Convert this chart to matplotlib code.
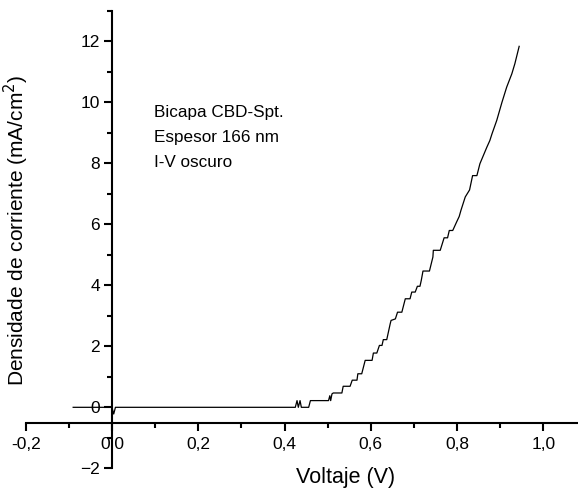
import matplotlib
import matplotlib.pyplot as plt
from matplotlib.ticker import MultipleLocator, FuncFormatter

matplotlib.use("Agg")

# I-V curve (voltage in V, current density in mA/cm2)
voltage = [-0.09, 0.0, 0.004, 0.008,
           0.425, 0.429, 0.432, 0.436, 0.439, 0.444, 0.456, 0.460,
           0.502, 0.505, 0.507, 0.510, 0.513,
           0.533, 0.536, 0.552, 0.557, 0.568, 0.570, 0.579, 0.587,
           0.603, 0.606, 0.614, 0.620, 0.626, 0.629, 0.637, 0.645, 0.647,
           0.657, 0.662, 0.672, 0.680, 0.691, 0.695, 0.703, 0.708,
           0.714, 0.717, 0.721, 0.736, 0.744, 0.745, 0.761, 0.770,
           0.778, 0.782, 0.790, 0.799, 0.805, 0.809, 0.819, 0.829,
           0.836, 0.846, 0.853, 0.861, 0.869, 0.876, 0.881, 0.892,
           0.904, 0.915, 0.927, 0.934, 0.944]
current = [0.0, 0.0, -0.22, 0.0,
           0.0, 0.22, 0.0, 0.22, 0.0, 0.0, 0.0, 0.22,
           0.22, 0.38, 0.22, 0.44, 0.47,
           0.47, 0.69, 0.69, 0.89, 0.89, 1.10, 1.10, 1.54,
           1.54, 1.78, 1.78, 2.03, 2.03, 2.22, 2.22, 2.74, 2.85,
           2.90, 3.12, 3.12, 3.56, 3.56, 3.78, 3.78, 3.97,
           3.97, 4.16, 4.47, 4.47, 4.93, 5.15, 5.15, 5.56,
           5.56, 5.80, 5.80, 6.08, 6.26, 6.46, 6.90, 7.13,
           7.60, 7.60, 7.99, 8.26, 8.53, 8.75, 8.97, 9.41,
           10.0, 10.5, 10.94, 11.27, 11.84]

note_lines = ["Bicapa CBD-Spt.", "Espesor 166 nm", "I-V oscuro"]


def comma(value, pos):
    return f"{value:.1f}".replace(".", ",").replace("-0,0", "0,0")


def main():
    plt.rcParams["font.family"] = ["Liberation Sans", "DejaVu Sans"]
    fig = plt.figure(figsize=(5.78, 4.88), dpi=100)
    ax = fig.add_axes([0.0445, 0.0404, 0.9555, 0.9371])

    ax.plot(voltage, current, color="black", linewidth=0.9)

    ax.set_xlim(-0.2, 1.0804)
    ax.set_ylim(-2, 13)

    ax.spines["top"].set_visible(False)
    ax.spines["right"].set_visible(False)
    ax.spines["left"].set_position(("data", 0))
    ax.spines["bottom"].set_position(("data", -0.5))
    ax.spines["left"].set_linewidth(1.5)
    ax.spines["bottom"].set_linewidth(1.5)

    ax.xaxis.set_major_locator(MultipleLocator(0.2))
    ax.xaxis.set_minor_locator(MultipleLocator(0.1))
    ax.xaxis.set_major_formatter(FuncFormatter(comma))
    ax.yaxis.set_major_locator(MultipleLocator(2))
    ax.yaxis.set_minor_locator(MultipleLocator(1))

    ax.tick_params(which="major", direction="out", length=5.8, width=1.5,
                   labelsize=12.5, pad=3)
    ax.tick_params(axis="x", which="major", pad=4.5)
    ax.tick_params(which="minor", direction="out", length=3.8, width=1.5)

    fig.text(346 / 578, 1 - 477 / 488, "Voltaje (V)", fontsize=15.5,
             ha="center", va="center")
    fig.text(16 / 578, 1 - 230 / 488,
             r"Densidade de corriente (mA/cm$^2$)", fontsize=15,
             rotation=90, ha="center", va="center")

    for i, line in enumerate(note_lines):
        ax.text(0.098, 9.51 - 0.82 * i, line, fontsize=12.3,
                ha="left", va="baseline")

    fig.savefig("out.png", dpi=100)
    return 0


if __name__ == "__main__":
    main()
